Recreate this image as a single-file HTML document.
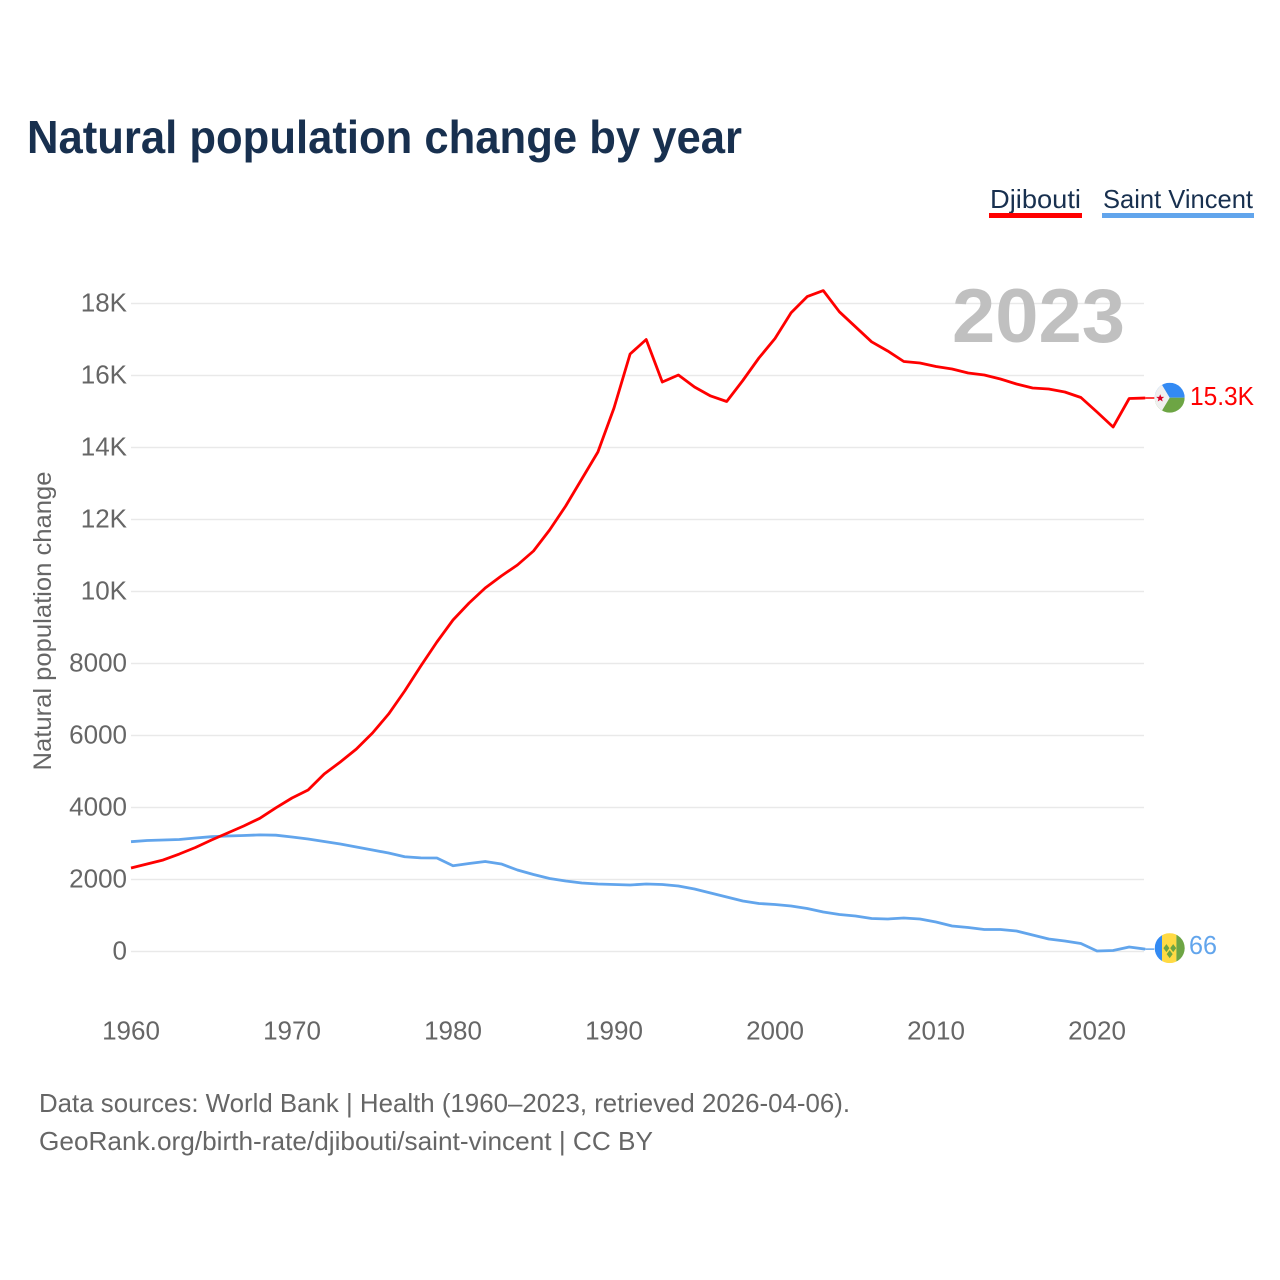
<!DOCTYPE html>
<html lang="en">
<head>
<meta charset="utf-8">
<title>Natural population change by year</title>
<style>
html,body{margin:0;padding:0;background:#fff;width:1280px;height:1280px;overflow:hidden}
svg{display:block}
text{font-family:"Liberation Sans",sans-serif}
</style>
</head>
<body>
<svg id="chart" xmlns="http://www.w3.org/2000/svg" width="1280" height="1280" viewBox="0 0 1280 1280">
  <rect x="0" y="0" width="1280" height="1280" fill="#fff"/>
  <text x="27" y="153" font-size="46" font-weight="700" fill="#18304f" textLength="715" lengthAdjust="spacingAndGlyphs">Natural population change by year</text>

  <g>
    <g>
      <text x="990" y="208" font-size="26" fill="#18304f" textLength="91" lengthAdjust="spacingAndGlyphs">Djibouti</text>
      <rect x="989" y="213" width="93" height="5" fill="#ff0000"/>
    </g>
    <g>
      <text x="1103" y="208" font-size="26" fill="#18304f" textLength="150" lengthAdjust="spacingAndGlyphs">Saint Vincent</text>
      <rect x="1102" y="213" width="152" height="5" fill="#62a5ec"/>
    </g>
  </g>

  <g id="grid"></g>
  <text x="952" y="342" font-size="76" font-weight="700" fill="#c0c0c0" textLength="173" lengthAdjust="spacingAndGlyphs">2023</text>
  <g id="yticks"></g>
  <g id="xticks"></g>
  <text transform="translate(51 621) rotate(-90)" text-anchor="middle" font-size="25" fill="#666" textLength="299" lengthAdjust="spacingAndGlyphs">Natural population change</text>

  <g id="series"></g>

  <defs>
    <clipPath id="clip-dj"><circle cx="0" cy="0" r="15"/></clipPath>
    <clipPath id="clip-vc"><circle cx="0" cy="0" r="15"/></clipPath>
  </defs>
  <g id="flag-dj">
    <g clip-path="url(#clip-dj)">
      <rect x="-15" y="-15" width="30" height="15" fill="#338af3"/>
      <rect x="-15" y="0" width="30" height="15" fill="#6da544"/>
      <polygon points="-15,-15 -9,-15 0,0 -9,15 -15,15" fill="#f0f0f0"/>
      <polygon points="-9.500,-3.500 -8.400,-0.800 -5.500,-0.800 -7.800,1 -7,3.800 -9.500,2.200 -12,3.800 -11.200,1 -13.500,-0.800 -10.600,-0.800" fill="#d80027"/>
    </g>
  </g>
  <g id="flag-vc">
    <g clip-path="url(#clip-vc)">
      <rect x="-15" y="-15" width="8" height="30" fill="#338af3"/>
      <rect x="-7.700" y="-15" width="14.400" height="30" fill="#ffda44"/>
      <rect x="6.700" y="-15" width="9" height="30" fill="#6da544"/>
      <polygon points="-3.300,-4 -0.300,0 -3.300,4 -6.300,0" fill="#6da544"/>
      <polygon points="3.500,-4 6.500,0 3.500,4 0.500,0" fill="#6da544"/>
      <polygon points="0,2 3,6 0,10 -3,6" fill="#6da544"/>
    </g>
  </g>
  <text id="label-dj" x="1190" font-size="26" fill="#ff0000" textLength="64" lengthAdjust="spacingAndGlyphs"></text>
  <text id="label-vc" x="1189" font-size="26" fill="#62a5ec" textLength="28" lengthAdjust="spacingAndGlyphs"></text>

  <g>
    <text x="39" y="1112" font-size="26" fill="#666" textLength="811" lengthAdjust="spacingAndGlyphs">Data sources: World Bank | Health (1960–2023, retrieved 2026-04-06).</text>
    <text x="39" y="1150" font-size="26" fill="#666" textLength="614" lengthAdjust="spacingAndGlyphs">GeoRank.org/birth-rate/djibouti/saint-vincent | CC BY</text>
  </g>
</svg>

<script>
const firstYear = 1960;
const djibouti = [2319,2431,2542,2708,2889,3097,3292,3486,3700,3990,4264,4486,4931,5264,5625,6069,6597,7236,7931,8597,9208,9681,10097,10431,10736,11125,11708,12375,13125,13875,15097,16597,17000,15819,16014,15681,15431,15278,15861,16486,17028,17742,18192,18358,17769,17353,16936,16681,16389,16347,16250,16181,16069,16014,15903,15764,15653,15625,15542,15389,14986,14569,15361,15375];
const saintVincent = [3050,3083,3097,3111,3153,3189,3208,3222,3240,3231,3181,3125,3056,2986,2903,2819,2736,2633,2600,2597,2383,2444,2500,2431,2264,2139,2028,1958,1903,1875,1861,1847,1875,1861,1819,1736,1625,1514,1403,1333,1306,1264,1194,1097,1028,986,917,903,931,903,819,708,667,611,611,569,458,347,292,222,14,28,125,66];
const yTickValues = [0,2000,4000,6000,8000,10000,12000,14000,16000,18000];
const yTickLabels = ["0","2000","4000","6000","8000","10K","12K","14K","16K","18K"];
const xTickValues = [1960,1970,1980,1990,2000,2010,2020];
const endLabelDjibouti = "15.3K";
const endLabelSaintVincent = "66";

const NS = "http://www.w3.org/2000/svg";
function xScale(year){ return 131 + (year - 1960) * 16.1; }
function yScale(v){ return 951.5 - v * 0.036; }
function make(tag, parent){
  const el = document.createElementNS(NS, tag);
  parent.appendChild(el);
  return el;
}

const grid = document.getElementById("grid");
const yticks = document.getElementById("yticks");
const xticks = document.getElementById("xticks");
const series = document.getElementById("series");

yTickValues.forEach(function(v, i){
  const line = make("line", grid);
  
  
  line.setAttribute("x1", 131);
  line.setAttribute("x2", 1144);
  line.setAttribute("y1", yScale(v));
  line.setAttribute("y2", yScale(v));
  line.setAttribute("stroke", "#e9e9e9");
  line.setAttribute("stroke-width", "1.5");
  const t = make("text", yticks);
  
  
  t.setAttribute("x", 127);
  t.setAttribute("y", yScale(v) + 8);
  t.setAttribute("text-anchor", "end");
  t.setAttribute("font-size", "26");
  t.setAttribute("fill", "#666");
  t.textContent = yTickLabels[i];
});

xTickValues.forEach(function(year){
  const t = make("text", xticks);
  
  
  t.setAttribute("x", xScale(year));
  t.setAttribute("y", 1039.5);
  t.setAttribute("text-anchor", "middle");
  t.setAttribute("font-size", "26");
  t.setAttribute("fill", "#666");
  t.textContent = String(year);
});

function pointsFor(values){
  return values.map(function(v, i){
    return xScale(firstYear + i).toFixed(2) + "," + yScale(v).toFixed(2);
  }).join(" ");
}

function lastPoint(values){
  const i = values.length - 1;
  return { x: xScale(firstYear + i), y: yScale(values[i]) };
}

const connectorDj = make("line", series);


const pDj = lastPoint(djibouti);
connectorDj.setAttribute("x1", pDj.x);
connectorDj.setAttribute("x2", pDj.x + 9);
connectorDj.setAttribute("y1", pDj.y);
connectorDj.setAttribute("y2", pDj.y);
connectorDj.setAttribute("stroke", "#ff0000");
connectorDj.setAttribute("stroke-width", "1.500");

const connectorVc = make("line", series);


const pVc = lastPoint(saintVincent);
connectorVc.setAttribute("x1", pVc.x);
connectorVc.setAttribute("x2", pVc.x + 9);
connectorVc.setAttribute("y1", pVc.y);
connectorVc.setAttribute("y2", pVc.y);
connectorVc.setAttribute("stroke", "#62a5ec");
connectorVc.setAttribute("stroke-width", "1.500");

const lineVc = make("polyline", series);


lineVc.setAttribute("points", pointsFor(saintVincent));
lineVc.setAttribute("fill", "none");
lineVc.setAttribute("stroke", "#62a5ec");
lineVc.setAttribute("stroke-width", "2.800");
lineVc.setAttribute("stroke-linejoin", "round");

const lineDj = make("polyline", series);


lineDj.setAttribute("points", pointsFor(djibouti));
lineDj.setAttribute("fill", "none");
lineDj.setAttribute("stroke", "#ff0000");
lineDj.setAttribute("stroke-width", "2.800");
lineDj.setAttribute("stroke-linejoin", "round");

document.getElementById("flag-dj").setAttribute("transform", "translate(1169.7 " + (pDj.y - 0.3) + ")");
document.getElementById("flag-vc").setAttribute("transform", "translate(1169.7 " + (pVc.y - 1) + ")");

const labelDj = document.getElementById("label-dj");
labelDj.textContent = endLabelDjibouti;
labelDj.setAttribute("y", pDj.y + 7);
const labelVc = document.getElementById("label-vc");
labelVc.textContent = endLabelSaintVincent;
labelVc.setAttribute("y", pVc.y + 5);
</script>
</body>
</html>
